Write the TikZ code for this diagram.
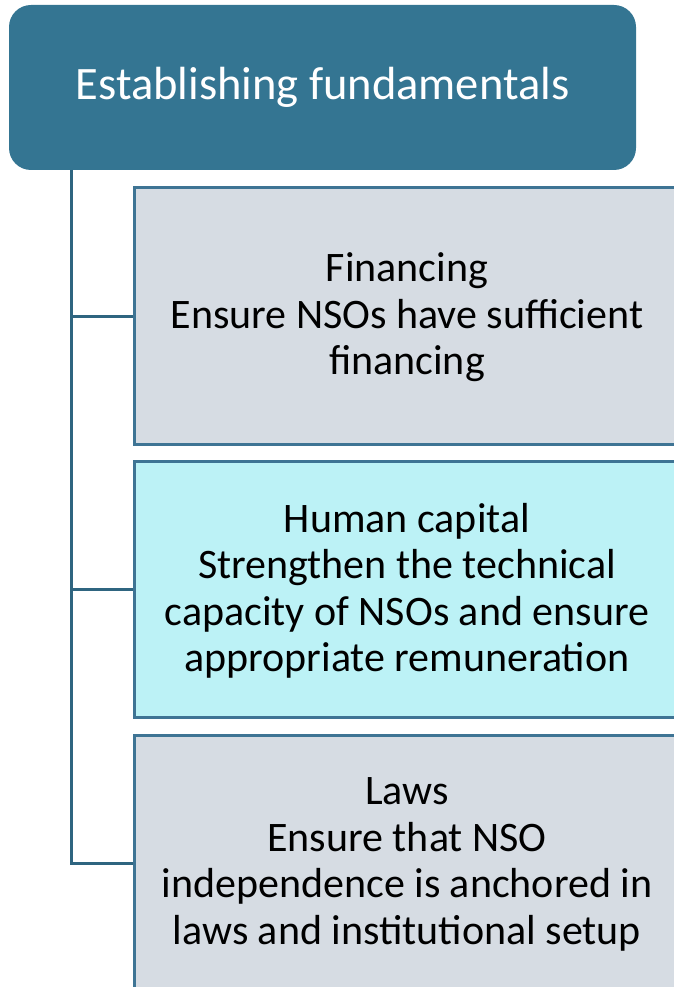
\documentclass[tikz,border=0pt]{standalone}
\usepackage{fontspec}
\setmainfont{Carlito}
\usetikzlibrary{positioning}
\definecolor{headblue}{RGB}{52,117,146}
\definecolor{edgeblue}{RGB}{62,116,148}
\definecolor{lineblue}{RGB}{47,101,128}
\definecolor{itemgrey}{RGB}{214,220,227}
\definecolor{itemcyan}{RGB}{188,242,246}

\begin{document}
\begin{tikzpicture}[x=1pt,y=1pt,node distance=273.5pt,on grid,
    head/.style={fill=headblue,rounded corners=22pt,minimum width=627pt,minimum height=165pt,
      text=white,font=\fontsize{46.5}{52}\selectfont},
    item/.style={draw=edgeblue,line width=3pt,fill=itemgrey,minimum width=546pt,minimum height=256pt,
      align=center,inner sep=0pt,text depth=4pt,font=\fontsize{42}{46.5}\selectfont},
    link/.style={draw=lineblue,line width=3pt}]
    \useasboundingbox (0,0) rectangle (674,-987);
    \node[head] (top) at (322.5,-87.5) {Establishing fundamentals};
    \node[item] (fin) at (407,-316) {Financing\\Ensure NSOs have sufficient\\financing};
    \node[item,fill=itemcyan] (hum) [below = of fin] {Human capital\\Strengthen the technical\\capacity of NSOs and ensure\\appropriate remuneration};
    \node[item] (law) [below = of hum] {Laws\\Ensure that NSO\\independence is anchored in\\laws and institutional setup};
    \coordinate (trunk) at (71,-170);
    \draw[link] (trunk) |- (law.west);
    \draw[link] (trunk |- fin.west) -- (fin.west);
    \draw[link] (trunk |- hum.west) -- (hum.west);
\end{tikzpicture}
\end{document}
